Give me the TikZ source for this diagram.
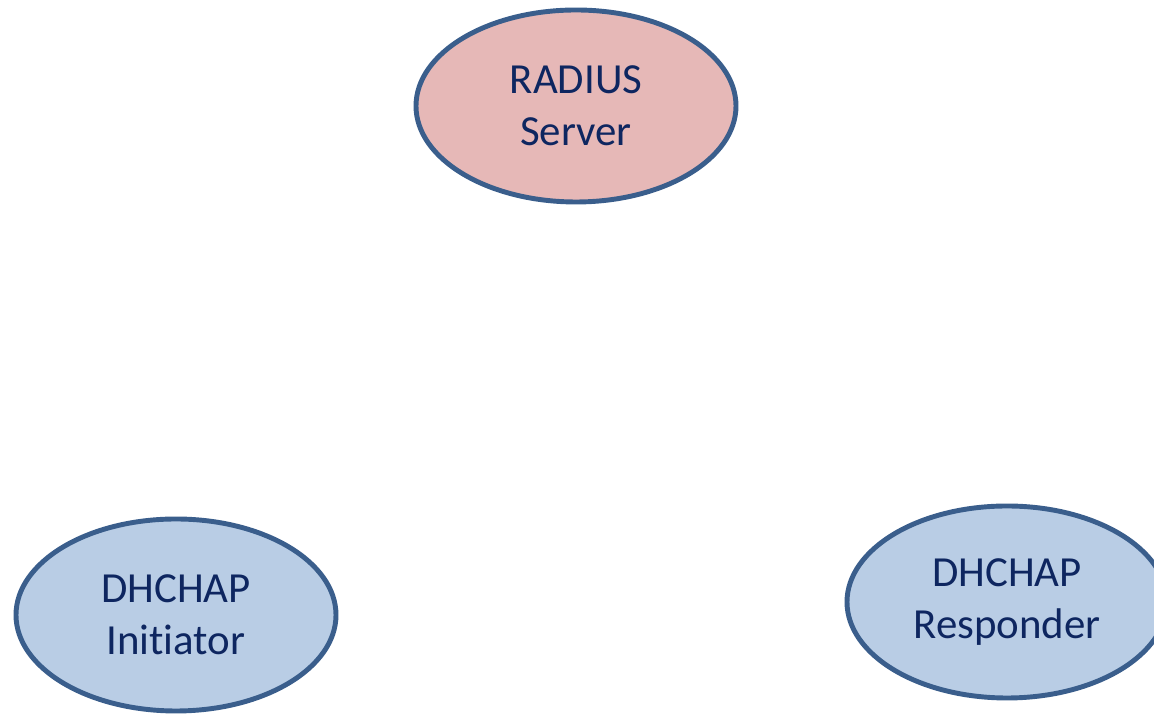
\documentclass[tikz,border=0pt]{standalone}
\usepackage{fontspec}
\setmainfont{Carlito}[Ligatures=NoCommon]
\usepackage{tikz}
\usetikzlibrary{shapes.geometric,positioning}
\usepackage{xcolor}
\definecolor{ovalline}{HTML}{3A5E8C}
\definecolor{serverfill}{HTML}{E6B8B7}
\definecolor{hostfill}{HTML}{B9CDE5}
\definecolor{ovaltext}{HTML}{0E2660}

\tikzset{
  oval/.style={ellipse, draw=ovalline, line width=1.4pt, inner sep=0pt,
    minimum width=3.2cm, minimum height=1.92cm, align=center,
    text=ovaltext, font=\fontsize{12.2}{14.8}\selectfont},
  server/.style={oval, fill=serverfill},
  host/.style={oval, fill=hostfill}
}

\begin{document}
\begin{tikzpicture}
\clip (0.000000,0.000000) rectangle (11.540000,-7.140000);

%RADIUS server
\node[server] (radius) at (5.760000,-1.060000) {RADIUS\\Server};

%DHCHAP initiator
\node[host] (initiator) at (1.760000,-6.150000) {DHCHAP\\Initiator};

%DHCHAP responder
\node[host] (responder) at (10.070000,-6.020000) {DHCHAP\\Responder};
\end{tikzpicture}
\end{document}
